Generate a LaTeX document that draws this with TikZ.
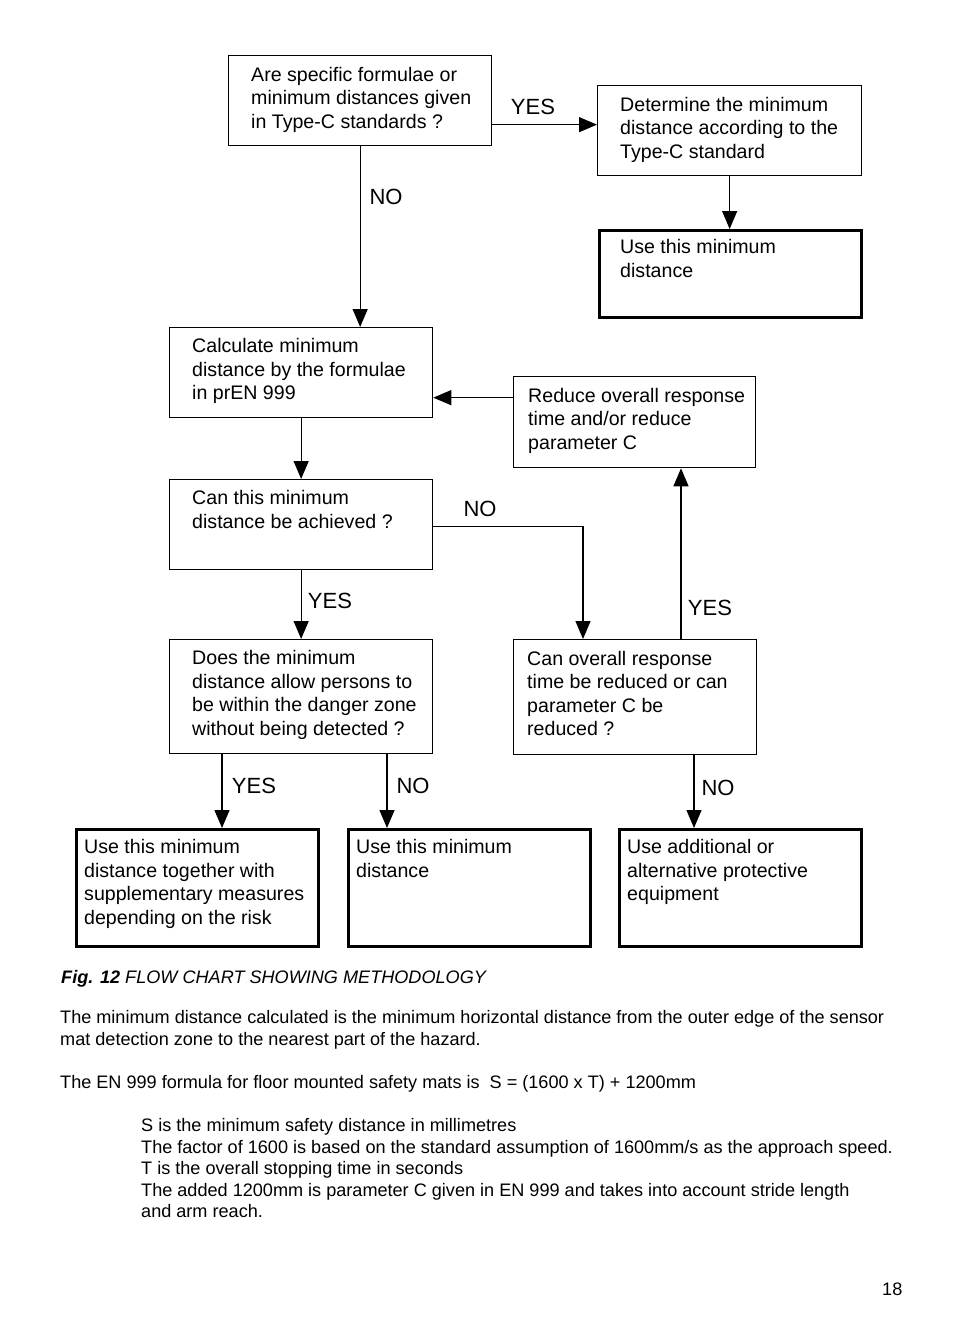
\documentclass[tikz,border=0pt]{standalone}
\usepackage{fontspec}
\setmainfont{Liberation Sans}
\usetikzlibrary{arrows.meta,calc}
\begin{document}
\begin{tikzpicture}[x=1pt,y=-1pt,
 thinbox/.style={draw,line width=1.3pt,inner sep=0pt,anchor=north west},
 thickbox/.style={draw,line width=3pt,inner sep=0pt,anchor=north west},
 txt/.style={anchor=north west,inner sep=0pt,align=left,font=\fontsize{19.6}{23.5}\selectfont},
 lbl/.style={inner sep=0pt,font=\fontsize{22}{26}\selectfont},
 body/.style={anchor=base west,inner sep=0pt,font=\fontsize{18.1}{21}\selectfont},
 arr/.style={line width=1.3pt,-{Triangle[length=18pt,width=15pt]}}]
\useasboundingbox[fill=white] (0,0) rectangle (954,1336);

% boxes
\node[thinbox,minimum width=263pt,minimum height=90pt] (q1) at (228,55) {};
\node[thinbox,minimum width=264pt,minimum height=90pt] (detc) at (597,85) {};
\node[thickbox,minimum width=262pt,minimum height=87pt] (usec) at (598,229) {};
\node[thinbox,minimum width=263pt,minimum height=90pt] (calc) at (169,327) {};
\node[thinbox,minimum width=242pt,minimum height=91pt] (reduce) at (513,376) {};
\node[thinbox,minimum width=263pt,minimum height=90pt] (canach) at (169,479) {};
\node[thinbox,minimum width=263pt,minimum height=114pt] (does) at (169,639) {};
\node[thinbox,minimum width=243pt,minimum height=115pt] (canover) at (513,639) {};
\node[thickbox,minimum width=242pt,minimum height=117pt] (usesupp) at (75,828) {};
\node[thickbox,minimum width=242pt,minimum height=117pt] (usemin) at (347,828) {};
\node[thickbox,minimum width=242pt,minimum height=117pt] (useadd) at (618,828) {};

% box texts
\node[txt] (q1t) at ($(q1.north west)+(23,9.5)$) {\strut Are specific formulae or\\minimum distances given\\in Type-C standards ?};
\node[txt] (detct) at ($(detc.north west)+(23,9.5)$) {\strut Determine the minimum\\distance according to the\\Type-C standard};
\node[txt] (usect) at ($(usec.north west)+(22,8)$) {\strut Use this minimum\\distance};
\node[txt] (calct) at ($(calc.north west)+(23,9)$) {\strut Calculate minimum\\distance by the formulae\\in prEN 999};
\node[txt] (reducet) at ($(reduce.north west)+(15,9.5)$) {\strut Reduce overall response\\time and/or reduce\\parameter C};
\node[txt] (canacht) at ($(canach.north west)+(23,9)$) {\strut Can this minimum\\distance be achieved ?};
\node[txt] (doest) at ($(does.north west)+(23,9)$) {\strut Does the minimum\\distance allow persons to\\be within the danger zone\\without being detected ?};
\node[txt] (canovert) at ($(canover.north west)+(14,9.5)$) {\strut Can overall response\\time be reduced or can\\parameter C be\\reduced ?};
\node[txt] (usesuppt) at ($(usesupp.north west)+(9,9)$) {\strut Use this minimum\\distance together with\\supplementary measures\\depending on the risk};
\node[txt] (usemint) at ($(usemin.north west)+(9,9)$) {\strut Use this minimum\\distance};
\node[txt] (useaddt) at ($(useadd.north west)+(9,9)$) {\strut Use additional or\\alternative protective\\equipment};

% connectors
\draw[arr] ($(q1.east)+(0,24)$) coordinate (a1) -- (a1 -| detc.west);
\draw[arr] (q1.south) -- (q1.south |- calc.north);
\draw[arr] (detc.south) -- (detc.south |- usec.north);
\draw[arr] ($(reduce.west)+(0,-24.5)$) coordinate (a2) -- (a2 -| calc.east);
\draw[arr] (calc.south) -- (canach.north);
\draw[arr] ($(canach.east)+(0,2)$) -| ($(canover.north west)+(70,0)$);
\draw[arr] (canach.south) -- (does.north);
\draw[arr] ($(canover.north west)+(168,0)$) coordinate (a3) -- (a3 |- reduce.south);
\draw[arr] ($(does.south west)+(53,0)$) coordinate (d1) -- (d1 |- usesupp.north);
\draw[arr] ($(does.south west)+(218,0)$) coordinate (d2) -- (d2 |- usemin.north);
\draw[arr] ($(canover.south west)+(181,0)$) coordinate (d3) -- (d3 |- useadd.north);

% labels
\node[lbl] (l1) at (533,107) {YES};
\node[lbl] (l2) at (386,197) {NO};
\node[lbl] (l3) at (480,509) {NO};
\node[lbl] (l4) at (330,601) {YES};
\node[lbl] (l5) at (710,608) {YES};
\node[lbl] (l6) at (254,786) {YES};
\node[lbl] (l7) at (413,786) {NO};
\node[lbl] (l8) at (718,788) {NO};

% caption and body
\node[body] (cap) at (61,983) {{\bfseries\itshape Fig. 12} \itshape FLOW CHART SHOWING METHODOLOGY};
\node[body] (b1) at (60,1023.5) {The minimum distance calculated is the minimum horizontal distance from the outer edge of the sensor};
\node[body] (b2) at (60,1045.5) {mat detection zone to the nearest part of the hazard.};
\node[body] (b3) at (60,1088.5) {The EN 999 formula for floor mounted safety mats is~~S = (1600 x T) + 1200mm};
\node[body] (b4) at (141,1131.5) {S is the minimum safety distance in millimetres};
\node[body] (b5) at (141,1153.5) {The factor of 1600 is based on the standard assumption of 1600mm/s as the approach speed.};
\node[body] (b6) at (141,1174.5) {T is the overall stopping time in seconds};
\node[body] (b7) at (141,1196.5) {The added 1200mm is parameter C given in EN 999 and takes into account stride length};
\node[body] (b8) at (141,1217.5) {and arm reach.};
\node[body] (pg) at (882,1295) {18};
\end{tikzpicture}
\end{document}
